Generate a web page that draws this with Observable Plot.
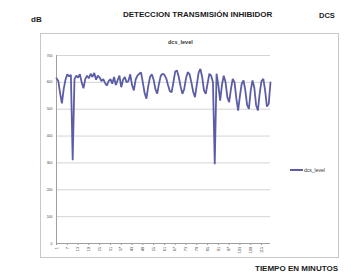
<!DOCTYPE html>
<html><head><meta charset="utf-8">
<script src="https://cdn.jsdelivr.net/npm/d3@7"></script>
<script src="https://cdn.jsdelivr.net/npm/@observablehq/plot@0.6"></script>
<style>
body{margin:0;background:#fff;}
#wrap{position:relative;width:364px;height:273px;overflow:hidden;font-family:"Liberation Sans",Arial,sans-serif;}
.t{position:absolute;white-space:nowrap;line-height:1;color:#1a1a1a;}
.b{font-weight:bold;}
#frame{position:absolute;left:40px;top:33px;width:297px;height:223px;border:1px solid #c8c8c8;}
#wrap svg{position:absolute;left:0;top:0;}
</style>
</head><body>
<div id="wrap">
  <div id="frame"></div>
  <div class="t b" style="left:123px;top:11px;font-size:8px;">DETECCION TRANSMISIÓN INHIBIDOR</div>
  <div class="t b" style="left:31px;top:16px;font-size:8px;">dB</div>
  <div class="t b" style="left:319px;top:12px;font-size:7.5px;">DCS</div>
  <div class="t b" style="left:255px;top:265px;font-size:8px;">TIEMPO EN MINUTOS</div>
  <div class="t b" style="left:168px;top:40px;font-size:5.5px;color:#333;">dcs_level</div>
  <div style="position:absolute;left:290px;top:169px;width:13px;height:1.5px;background:#5b5ea6;"></div>
  <div class="t" style="left:304px;top:167.5px;font-size:5px;color:#333;">dcs_level</div>
</div>
<script>
const seriesName = "dcs_level";
const dcsLevel = [
 615,605,560,522,575,610,630,622,628,310,
 612,625,618,630,600,578,612,625,615,632,
 620,635,610,625,618,605,612,598,588,605,
 612,595,620,590,608,625,582,610,620,600,
 605,630,590,570,610,625,632,637,600,560,
 539,585,620,630,610,575,558,595,625,632,
 628,615,590,568,563,600,640,644,620,585,
 557,575,615,638,630,600,565,545,590,635,
 650,620,570,557,595,632,625,600,295,632,
 590,532,590,625,600,545,526,575,613,600,
 540,495,550,595,607,570,515,501,570,607,
 580,515,495,560,605,613,570,510,520,600
];
const minutes = dcsLevel.map((_, i) => i + 1);
const xTickLabels = ["1","7","13","19","25","31","37","43","49","55","61","67","73","79","85","91","97","103","109","115"];
const yTicks = [0,100,200,300,400,500,600,700];

const data = dcsLevel.map((v, i) => ({minute: minutes[i], level: v}));
const lineColor = "#5b5ea6";

const chart = Plot.plot({
  width: 364, height: 273,
  marginLeft: 56, marginRight: 94, marginTop: 55, marginBottom: 30,
  style: {fontFamily: "Liberation Sans, Arial, sans-serif", fontSize: "4px", color: "#444", background: "transparent", overflow: "visible"},
  x: {domain: [1, 120], label: null},
  y: {domain: [0, 700], label: null},
  marks: [
    Plot.gridY(yTicks, {stroke: "#d4d4d4", strokeOpacity: 1}),
    Plot.axisY(yTicks, {tickSize: 0, tickPadding: 4, label: null, fontSize: 3.5}),
    Plot.axisX(xTickLabels.map(Number), {tickSize: 2, tickRotate: -90, tickPadding: 1.5, label: null, stroke: "#999", fontSize: 3.8}),
    Plot.ruleX([1], {stroke: "#a0a0a0"}),
    Plot.ruleY([0], {stroke: "#a0a0a0"}),
    Plot.line(data, {x: "minute", y: "level", stroke: lineColor, strokeWidth: 1.8, strokeLinejoin: "miter"})
  ]
});
document.getElementById("wrap").appendChild(chart);
</script>
</body></html>
